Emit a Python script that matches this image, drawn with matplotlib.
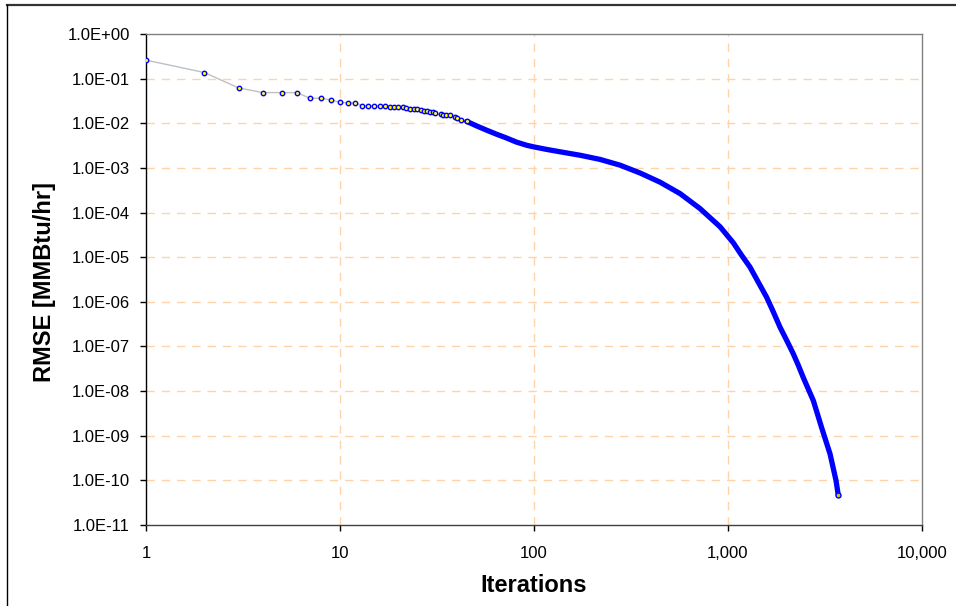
import matplotlib
matplotlib.use("Agg")
import matplotlib.pyplot as plt
from matplotlib.ticker import FixedLocator, FuncFormatter
from matplotlib.lines import Line2D

plt.rcParams['font.family'] = ['Liberation Sans', 'DejaVu Sans']

# early iterations, each one shown as a separate marker
iter_early = [1, 2, 3, 4, 5, 6, 7, 8, 9, 10, 11, 12, 13, 14, 15, 16, 17, 18, 19, 20,
              21, 22, 23, 24, 25, 26, 27, 28, 29, 30, 31, 33, 34, 35, 37, 39, 40, 42, 45]
rmse_early = [0.26, 0.137, 0.062, 0.0487, 0.0487, 0.0487, 0.0363, 0.0363, 0.0333, 0.0295,
              0.0285, 0.0285, 0.0248, 0.0248, 0.0248, 0.0244, 0.0241, 0.0233, 0.0233, 0.023,
              0.0226, 0.0215, 0.0204, 0.0204, 0.0204, 0.0197, 0.0193, 0.0184, 0.0178, 0.0176,
              0.0166, 0.0158, 0.0155, 0.0151, 0.015, 0.0135, 0.0129, 0.0118, 0.011]

# later iterations, where the markers merge into a band
iter_late = [51, 57, 64, 72, 81, 92, 100, 116, 136, 173, 219, 278, 352, 446, 566, 717,
             910, 1065, 1176, 1298, 1433, 1581, 1714, 1854, 2005, 2172, 2303, 2445,
             2754, 3041, 3358, 3606, 3700]
rmse_late = [0.0086, 0.007, 0.0057, 0.0047, 0.0038, 0.0032, 0.00295, 0.0026, 0.0023,
             0.00192, 0.00155, 0.00115, 0.00077, 0.00048, 0.000266, 0.000123,
             4.8e-5, 2.1e-5, 1.1e-5, 6.0e-6, 2.75e-6, 1.27e-6, 5.9e-7, 2.7e-7, 1.38e-7,
             6.8e-8, 3.8e-8, 2.0e-8, 6.1e-9, 1.5e-9, 3.9e-10, 9.8e-11, 4.7e-11]

x_ticks = [1, 10, 100, 1000, 10000]
y_ticks = [10.0 ** -k for k in range(0, 12)]

fig = plt.figure(figsize=(9.56, 6.06), dpi=100)
ax = fig.add_axes([146 / 956, 1 - 525 / 606, 776 / 956, 491 / 606])

grid_col = '#FFD3A8'
for yv in y_ticks[1:-1]:
    ax.axhline(yv, color=grid_col, lw=1, ls=(0, (6, 5)), zorder=1)
for xv in x_ticks[1:-1]:
    ax.axvline(xv, color=grid_col, lw=1, ls=(0, (6, 5)), zorder=1)

all_x = iter_early + iter_late
all_y = rmse_early + rmse_late
ax.plot(all_x, all_y, color='#C0C0C0', lw=1, zorder=2)
ax.plot(iter_early[-1:] + iter_late, rmse_early[-1:] + rmse_late, color='#0000FF', lw=3.8,
        solid_capstyle='round', solid_joinstyle='round', zorder=3)
ax.plot(iter_early, rmse_early, ls='none', marker='o', ms=3.2, mfc='#FFFF00', mec='#0000FF',
        mew=1, zorder=4)
ax.plot(iter_late[-1:], rmse_late[-1:], ls='none', marker='o', ms=3.6, mfc='#C8C800', mec='#0000FF',
        mew=1, zorder=4)

ax.set_xscale('log')
ax.set_yscale('log')
ax.set_xlim(1, 10000)
ax.set_ylim(1e-11, 1)
ax.xaxis.set_major_locator(FixedLocator(x_ticks))
ax.yaxis.set_major_locator(FixedLocator(y_ticks))
ax.xaxis.set_minor_locator(FixedLocator([]))
ax.yaxis.set_minor_locator(FixedLocator([]))
ax.xaxis.set_major_formatter(FuncFormatter(lambda v, p: '{:,}'.format(int(round(v)))))
ax.yaxis.set_major_formatter(FuncFormatter(lambda v, p: '{:.1E}'.format(v)))
ax.tick_params(axis='both', direction='out', length=4, width=1, colors='#000000',
               labelsize=12)
ax.tick_params(axis='y', pad=7.5)
ax.tick_params(axis='x', pad=11)

ax.spines['left'].set_color('#000000')
ax.spines['bottom'].set_color('#404040')
ax.spines['top'].set_color('#808080')
ax.spines['right'].set_color('#808080')
for s in ax.spines.values():
    s.set_linewidth(1)

fig.text(534 / 956, 1 - 585 / 606, 'Iterations', ha='center', va='center',
         fontsize=17, fontweight='bold')
fig.text(45 / 956, 1 - 282 / 606, 'RMSE [MMBtu/hr]', ha='center', va='center',
         rotation=90, fontsize=17, fontweight='bold')

# outer frame of the original chart (top and left edges visible)
fig.add_artist(Line2D([7 / 956, 1], [1 - 5 / 606, 1 - 5 / 606], color='#333333', lw=1.6,
                      transform=fig.transFigure))
fig.add_artist(Line2D([7 / 956, 7 / 956], [0, 1 - 5 / 606], color='#000000', lw=1,
                      transform=fig.transFigure))

fig.savefig('out.png', dpi=100)
